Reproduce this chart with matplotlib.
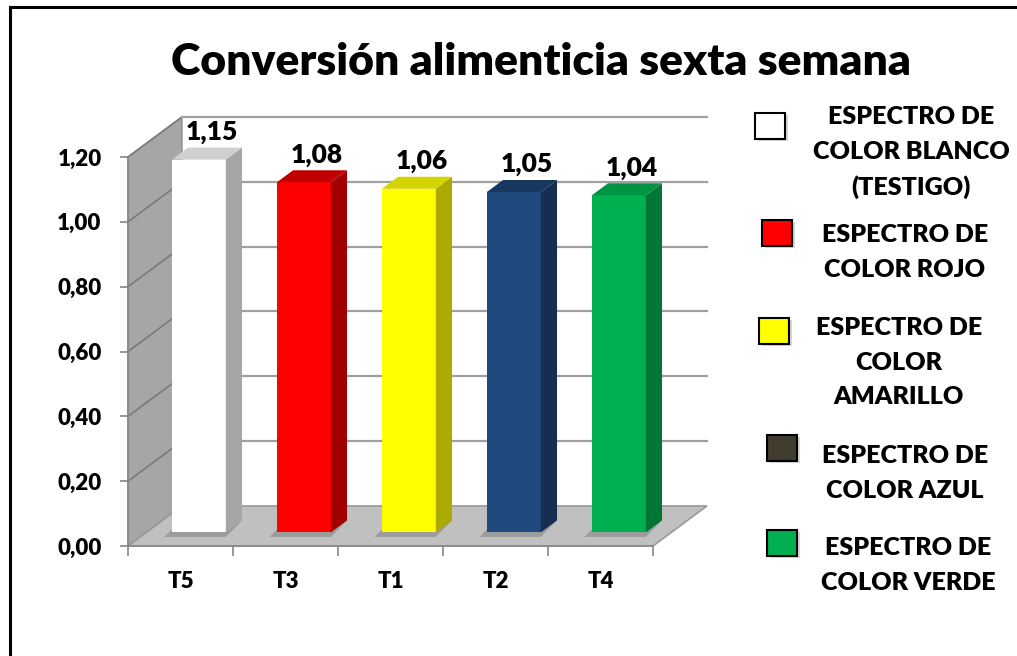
import matplotlib
matplotlib.use("Agg")
import matplotlib.pyplot as plt
from matplotlib.patches import Polygon, Rectangle
from matplotlib.lines import Line2D
import numpy as np

# ---- data ----
categories = ["T5", "T3", "T1", "T2", "T4"]
values = [1.15, 1.08, 1.06, 1.05, 1.04]
value_labels = ["1,15", "1,08", "1,06", "1,05", "1,04"]
yticks = [0.0, 0.2, 0.4, 0.6, 0.8, 1.0, 1.2]
ytick_labels = ["0,00", "0,20", "0,40", "0,60", "0,80", "1,00", "1,20"]
legend_labels = [
    ["ESPECTRO DE", "COLOR BLANCO", "(TESTIGO)"],
    ["ESPECTRO DE", "COLOR ROJO"],
    ["ESPECTRO DE", "COLOR", "AMARILLO"],
    ["ESPECTRO DE", "COLOR AZUL"],
    ["ESPECTRO DE", "COLOR VERDE"],
]
title = "Conversión alimenticia sexta semana"

# ---- styles ----
front_cols = ["#FFFFFF", "#FF0000", "#FFFF00", "#1F497D", "#00B050"]
side_cols = ["#A6A6A6", "#A00000", "#AAAA00", "#152F53", "#007635"]
top_cols = ["#D0D0D0", "#C00000", "#D4D400", "#17375E", "#009444"]
legend_cols = ["#FFFFFF", "#FF0000", "#FFFF00", "#403D2F", "#00B050"]

FONT = "Lato"
WT = "heavy"
W, H = 1017, 656
fig = plt.figure(figsize=(W / 100, H / 100), dpi=100)

def fx(x):
    return x / W

def fy(y):
    return 1 - y / H

ax = fig.add_axes([fx(128), 110 / H, 525 / W, 389 / H])
ax.set_xlim(-0.5, 4.5)
ax.set_ylim(0, 1.2)
ax.patch.set_visible(False)

DX, DY = 0.514, 0.1235   # depth offset (data units)
F0, F1 = 0.34, 0.64      # bar depth range
HW = 0.257               # bar half width
x0, x1 = -0.5, 4.5
ymax = 1.2

# left wall
ax.add_patch(Polygon([(x0, 0), (x0 + DX, DY), (x0 + DX, ymax + DY), (x0, ymax)],
                     closed=True, facecolor="#A6A6A6", edgecolor="#8C8C8C",
                     lw=1, clip_on=False, zorder=1))
# gridlines
for t in yticks[1:]:
    ax.add_line(Line2D([x0, x0 + DX], [t, t + DY], color="#7A7A7A", lw=1.2,
                       clip_on=False, zorder=2))
    ax.add_line(Line2D([x0 + DX, x1 + DX], [t + DY, t + DY], color="#A0A0A0",
                       lw=1.6, clip_on=False, zorder=2))
# floor
ax.add_patch(Polygon([(x0, 0), (x1, 0), (x1 + DX, DY), (x0 + DX, DY)],
                     closed=True, facecolor="#C0C0C0", edgecolor="#9A9A9A",
                     lw=1.2, clip_on=False, zorder=3))

xs = np.arange(len(categories))
# shadows
for i, v in enumerate(values):
    xl, xr = xs[i] - HW, xs[i] + HW
    ax.add_patch(Polygon([(xl + F0 * DX - 0.07, F0 * DY - 0.014),
                          (xr + F0 * DX, F0 * DY - 0.014),
                          (xr + F1 * DX, F1 * DY),
                          (xl + F1 * DX - 0.07, F1 * DY)],
                         closed=True, facecolor="#7A7A7A", alpha=0.5,
                         edgecolor="none", clip_on=False, zorder=4))

# bars (front faces)
ax.bar(xs + F0 * DX, values, width=2 * HW, bottom=F0 * DY,
       color=front_cols, edgecolor="none", zorder=6, clip_on=False)
for i, v in enumerate(values):
    xl, xr = xs[i] - HW, xs[i] + HW
    # side
    ax.add_patch(Polygon([(xr + F0 * DX, F0 * DY), (xr + F1 * DX, F1 * DY),
                          (xr + F1 * DX, v + F1 * DY), (xr + F0 * DX, v + F0 * DY)],
                         closed=True, facecolor=side_cols[i], edgecolor="none",
                         clip_on=False, zorder=6))
    # top
    ax.add_patch(Polygon([(xl + F0 * DX, v + F0 * DY), (xr + F0 * DX, v + F0 * DY),
                          (xr + F1 * DX, v + F1 * DY), (xl + F1 * DX, v + F1 * DY)],
                         closed=True, facecolor=top_cols[i], edgecolor="none",
                         clip_on=False, zorder=6))
    # value label
    ax.annotate(value_labels[i], xy=(xs[i] + (F0 + F1) / 2 * DX, v + F1 * DY),
                xytext=(5, 8), textcoords="offset pixels", ha="center",
                va="baseline", fontsize=19, fontweight=WT, family=FONT,
                zorder=8, annotation_clip=False)

# axes, ticks
for s in ["top", "right"]:
    ax.spines[s].set_visible(False)
for s in ["left", "bottom"]:
    ax.spines[s].set_color("#868686")
    ax.spines[s].set_linewidth(1.2)
    ax.spines[s].set_zorder(5)
ax.set_yticks(yticks)
ax.set_yticklabels(ytick_labels, fontsize=16, fontweight=WT, family=FONT)
ax.tick_params(axis="y", length=6, color="#868686", width=1.2, pad=13)
ax.set_xticks(np.arange(-0.5, 5, 1.0))
ax.set_xticklabels([])
ax.tick_params(axis="x", which="major", length=7, color="#868686", width=1.2)
ax.set_xticks(xs, minor=True)
ax.set_xticklabels(categories, minor=True, fontsize=16, fontweight=WT, family=FONT)
ax.tick_params(axis="x", which="minor", length=0, pad=18)

# title
fig.text(fx(541), fy(75), title, ha="center", va="baseline", fontsize=32,
         fontweight=WT, family=FONT)

# legend
sq_boxes = [(755, 113), (762, 220), (759, 318), (767, 435), (767, 530)]
text_x = [911, 905, 899, 905, 908]
baselines = [[124, 159, 195], [242, 277], [335, 370, 404], [463, 498], [555, 590]]
for i in range(5):
    sx, sy = sq_boxes[i]
    fig.add_artist(Rectangle((fx(sx + 3), fy(sy + 28)), 30 / W, 26 / H,
                             transform=fig.transFigure, facecolor="#BBBBBB",
                             edgecolor="none", alpha=0.6))
    fig.add_artist(Rectangle((fx(sx), fy(sy + 26)), 30 / W, 26 / H,
                             transform=fig.transFigure, facecolor=legend_cols[i],
                             edgecolor="black", lw=1.5))
    for line, b in zip(legend_labels[i], baselines[i]):
        fig.text(fx(text_x[i]), fy(b), line, ha="center", va="baseline",
                 fontsize=18, fontweight=WT, family=FONT)

# outer border
fig.add_artist(Line2D([fx(10), fx(10)], [0, fy(7)], color="black", lw=2.2,
                      transform=fig.transFigure))
fig.add_artist(Line2D([fx(10), 1], [fy(7), fy(7)], color="black", lw=2.2,
                      transform=fig.transFigure))

fig.savefig("out.png", dpi=100)
